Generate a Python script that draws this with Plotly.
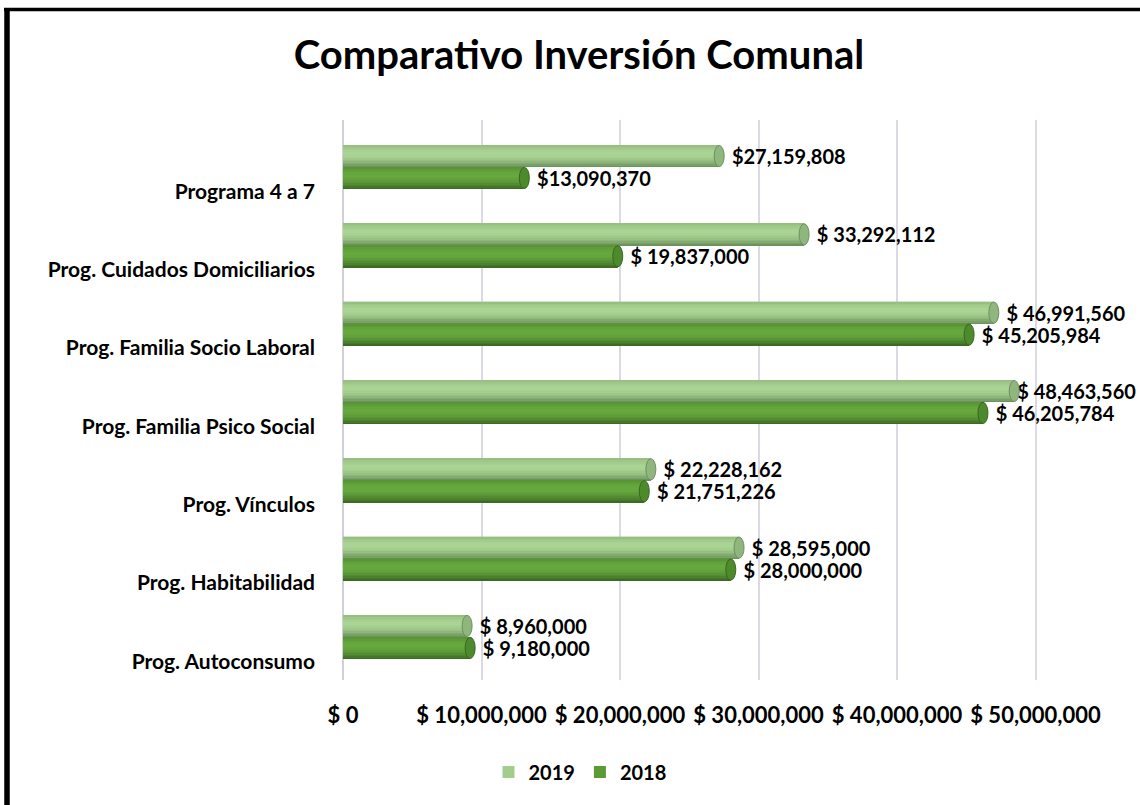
import math
import plotly.graph_objects as go

# ---- data -------------------------------------------------------------
categories = [
    "Prog. Autoconsumo",
    "Prog. Habitabilidad",
    "Prog. Vínculos",
    "Prog. Familia Psico Social",
    "Prog. Familia Socio Laboral",
    "Prog. Cuidados Domiciliarios",
    "Programa 4 a 7",
]
values_2019 = [8960000, 28595000, 22228162, 48463560, 46991560, 33292112, 27159808]
values_2018 = [9180000, 28000000, 21751226, 46205784, 45205984, 19837000, 13090370]
labels_2019 = ["$ 8,960,000", "$ 28,595,000", "$ 22,228,162", "$ 48,463,560",
               "$ 46,991,560", "$ 33,292,112", "$27,159,808"]
labels_2018 = ["$ 9,180,000", "$ 28,000,000", "$ 21,751,226", "$ 46,205,784",
               "$ 45,205,984", "$ 19,837,000", "$13,090,370"]
x_tick_values = [0, 10000000, 20000000, 30000000, 40000000, 50000000]
x_tick_labels = ["$ 0", "$ 10,000,000", "$ 20,000,000", "$ 30,000,000",
                 "$ 40,000,000", "$ 50,000,000"]

# ---- layout constants -------------------------------------------------
W, H = 1140, 805
L, R, T, B = 343, 90, 120, 125
FONT = "Lato"
BAR_W = 0.28
N_BANDS = 14
PX_PER_UNIT = 13.85 / 1e6          # horizontal scale, pixels per peso
CAP_HALF = 5 / PX_PER_UNIT         # half width of the cylinder end cap
LONG_BAR = 48e6                    # bars this long leave no room for a gap
positions = list(range(len(categories)))

# (shadow colour, highlight colour, legend swatch, cap fill, cap outline)
palette_2019 = ((0x62, 0x88, 0x54), (0xaa, 0xd4, 0x93), "#a2cd8c", "#8fb67c", "#6f8f62")
palette_2018 = ((0x36, 0x60, 0x1f), (0x66, 0xa8, 0x3e), "#5b9a35", "#4d8a2c", "#3a6622")


def band_color(dark, light, f):
    # brightness profile across the cylinder: dark at the bottom, peak above centre
    w = math.sin(math.pi * (f * 0.75 + 0.02))
    rgb = [round(d + (l - d) * w) for d, l in zip(dark, light)]
    return "rgb({},{},{})".format(*rgb)


fig = go.Figure()


def add_cylinder(values, labels, offset, palette, name):
    dark, light, swatch, cap_fill, cap_line = palette
    templates = ["%{text}" if v > LONG_BAR else "\u00a0\u00a0%{text}" for v in values]
    # main body carrying the legend entry and value label
    fig.add_trace(go.Bar(
        y=positions, x=values, orientation="h", name=name,
        offset=offset, width=BAR_W,
        marker=dict(color=swatch, line=dict(width=0)),
        text=labels, texttemplate=templates,
        textposition="outside", cliponaxis=False, constraintext="none",
        textfont=dict(family=FONT, size=20, color="#000000", weight="bold"),
        hoverinfo="skip",
    ))
    # thin horizontal bands giving the rounded look
    for k in range(N_BANDS):
        f0, f1 = k / N_BANDS, (k + 1) / N_BANDS
        fig.add_trace(go.Bar(
            y=positions, x=values, orientation="h", showlegend=False,
            offset=offset + BAR_W * f0, width=BAR_W * (f1 - f0) * 1.02,
            marker=dict(color=band_color(dark, light, (f0 + f1) / 2),
                        line=dict(width=0)),
            hoverinfo="skip",
        ))
    # elliptical end caps
    for p, v in zip(positions, values):
        fig.add_shape(type="circle", xref="x", yref="y",
                      x0=v - CAP_HALF, x1=v + CAP_HALF,
                      y0=p + offset + 0.005, y1=p + offset + BAR_W - 0.005,
                      fillcolor=cap_fill, line=dict(color=cap_line, width=1),
                      layer="above")


add_cylinder(values_2019, labels_2019, 0.0, palette_2019, "2019")
add_cylinder(values_2018, labels_2018, -BAR_W, palette_2018, "2018")

plot_w = W - L - R
plot_h = H - T - B


def px_x(p):
    return (p - L) / plot_w


def px_y(p):
    return 1 - (p - T) / plot_h


# outer frame (top and left edges)
fig.add_shape(type="line", xref="paper", yref="paper",
              x0=px_x(4), x1=px_x(W + 5), y0=px_y(9.5), y1=px_y(9.5),
              line=dict(color="#000000", width=3.5), layer="above")
fig.add_shape(type="line", xref="paper", yref="paper",
              x0=px_x(7), x1=px_x(7), y0=px_y(8), y1=px_y(H + 5),
              line=dict(color="#000000", width=5.5), layer="above")

fig.update_layout(
    width=W, height=H,
    margin=dict(l=L, r=R, t=T, b=B, pad=0),
    paper_bgcolor="#ffffff", plot_bgcolor="#ffffff",
    barmode="overlay",
    font=dict(family=FONT, color="#000000"),
    title=dict(text="<b>Comparativo Inversión Comunal</b>",
               x=579 / W, xref="container", xanchor="center",
               y=1 - 55 / H, yref="container", yanchor="middle",
               font=dict(family=FONT, size=40, color="#000000")),
    xaxis=dict(range=[0, plot_w / PX_PER_UNIT],
               tickvals=x_tick_values, ticktext=x_tick_labels,
               showgrid=True, gridcolor="#d9dae6", gridwidth=2,
               zeroline=True, zerolinecolor="#cfd0da", zerolinewidth=2,
               showline=False, ticks="", ticklabelstandoff=20,
               tickfont=dict(family=FONT, size=22, color="#000000", weight="bold"),
               fixedrange=True),
    yaxis=dict(range=[-0.55, 6.6],
               tickvals=[p - 0.31 for p in positions], ticktext=categories,
               showgrid=False, zeroline=False, showline=False, ticks="",
               ticklabelstandoff=27,
               tickfont=dict(family=FONT, size=21, color="#000000", weight="bold"),
               fixedrange=True),
    legend=dict(orientation="h", xref="container", yref="container",
                x=580 / W, xanchor="center", y=33 / H, yanchor="middle",
                font=dict(family=FONT, size=20, color="#000000", weight="bold"),
                traceorder="normal", itemclick=False),
    showlegend=True,
)

fig.write_html("out.html")
